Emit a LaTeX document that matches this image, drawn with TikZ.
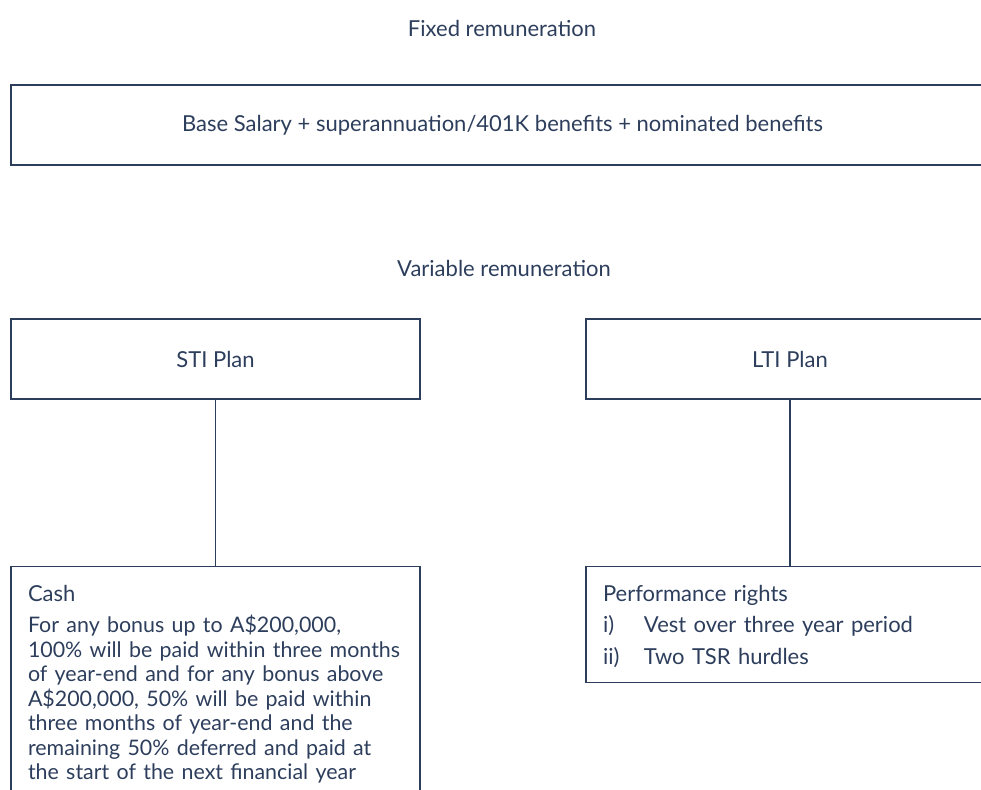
\documentclass[tikz,border=0pt]{standalone}
\usepackage{fontspec}
\setmainfont{Lato}
\usetikzlibrary{positioning}
\definecolor{navy}{RGB}{45,62,92}

\begin{document}
\begin{tikzpicture}
		[x=1pt, y=-1pt,
		 every node/.style={text=navy, font=\fontsize{22pt}{24.5pt}\selectfont},
		 plan/.style={draw=navy, line width=1.4pt, minimum height=80pt, inner sep=0pt},
		 detail/.style={draw=navy, line width=1.4pt, align=left, anchor=north west,
			inner xsep=17pt, inner ysep=0pt, text width=375pt},
		 link/.style={draw=navy, line width=1.4pt}]
		\useasboundingbox (0,0) rectangle (981,789);
		\clip (0,0) rectangle (981,789);
		% nodes %
		\node (fixed) at (502,28) {Fixed remuneration};
		\node[plan, minimum width=983pt] (base) at (502.5,125)
			{Base Salary + superannuation/401K benefits + nominated benefits};
		\node (variable) at (504,268) {Variable remuneration};
		\node[plan, minimum width=409pt] (sti) at (215.5,359) {STI Plan};
		\node[plan, minimum width=408pt] (lti) at (790,359) {LTI Plan};
		\node[detail, below=166pt of sti.south west, anchor=north west] (cash)
			{\rule{0pt}{35pt}Cash\\[7pt]
			\fontsize{21.4pt}{24.5pt}\selectfont
			For any bonus up to A\$200,000,\\
			100\% will be paid within three months\\
			of year-end and for any bonus above\\
			A\$200,000, 50\% will be paid within\\
			three months of year-end and the\\
			remaining 50\% deferred and paid at\\
			the start of the next financial year\rule[-40pt]{0pt}{0pt}};
		\node[detail, below=166pt of lti.south west, anchor=north west, text width=374pt] (rights)
			{\rule{0pt}{35pt}Performance rights\\[7pt]
			\makebox[41pt][l]{i)}Vest over three year period\\[7pt]
			\makebox[41pt][l]{ii)}Two TSR hurdles\rule[-18pt]{0pt}{0pt}};
		% edges %
		\draw[link] (sti.south) -- (sti.south |- cash.north);
		\draw[link] (lti.south) -- (lti.south |- rights.north);
\end{tikzpicture}
\end{document}
